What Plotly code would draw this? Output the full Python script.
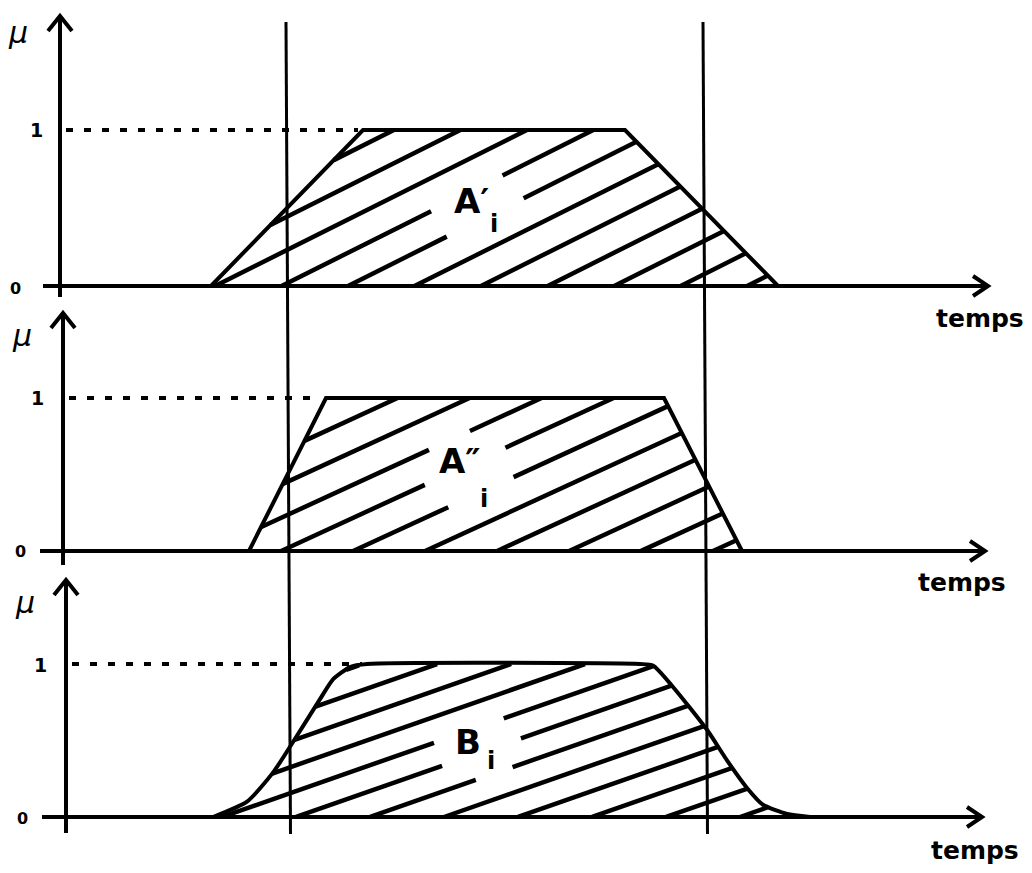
import numpy as np
import plotly.graph_objects as go

temps_A1 = [1.51, 3.03, 5.65, 7.18]
mu_A1 = [0, 1, 1, 0]

temps_A2 = [1.89, 2.66, 6.04, 6.82]
mu_A2 = [0, 1, 1, 0]

temps_B = [1.53, 1.87, 2.13, 2.33, 2.60, 2.73, 2.90, 3.07, 5.80, 5.93,
           6.13, 6.47, 6.67, 6.87, 7.03, 7.27, 7.50]
mu_B = [0, 0.10, 0.29, 0.49, 0.77, 0.90, 0.98, 1.0, 1.0, 0.99,
        0.85, 0.57, 0.37, 0.19, 0.08, 0.02, 0]

bornes = [2.28, 6.45]          # les deux instants marqués par les verticales
noms = ["A′", "A″", "B"]
indice = "i"
graduations = ["1", "0"]
titre_x = "temps"
titre_y = "μ"

W, H = 1032, 873
PX = 100.0      # pixels par unité de temps
T0 = -0.6       # temps au bord gauche de la figure

# mise en page de chaque bande (en pixels)
bandes = [
    dict(t=temps_A1, mu=mu_A1, base=286, sc=156, ax=60, top=16, bot=297, x0=43, x1=988,
         pente=0.50, pas=66.5, c0=215, lab=(478, 208), gap=(47, 38),
         nom=(471, 201), sub=(494, 224),
         temps=(980, 318), mu_lab=(18, 32), un=(36, 130), zero=(15, 288), spline=False),
    dict(t=temps_A2, mu=mu_A2, base=551, sc=153, ax=63, top=313, bot=565, x0=40, x1=985,
         pente=0.46, pas=72, c0=281, lab=(468, 471), gap=(46, 40),
         nom=(460, 461), sub=(484, 499),
         temps=(962, 582), mu_lab=(22, 335), un=(37, 398), zero=(20, 551), spline=False),
    dict(t=temps_B, mu=mu_B, base=817, sc=153, ax=66, top=580, bot=833, x0=42, x1=982,
         pente=0.35, pas=74, c0=222, lab=(478, 746), gap=(44, 34),
         nom=(468, 742), sub=(491, 761),
         temps=(975, 850), mu_lab=(25, 602), un=(40, 665), zero=(22, 818), spline=True),
]


def tx(px):
    return T0 + px / PX


def hachures(b):
    pente = b['pente'] * PX / b['sc']
    pas = b['pas'] / PX
    c0 = tx(b['c0'])
    ts = np.linspace(b['t'][0], b['t'][-1], 2500)
    forme = np.interp(ts, b['t'], b['mu'])
    tc = tx(b['lab'][0])
    mc = (b['base'] - b['lab'][1]) / b['sc']
    rt = b['gap'][0] / PX
    rm = b['gap'][1] / b['sc']
    xs, ys = [], []
    for c in np.arange(c0 - 8 * pas, b['t'][-1], pas):
        m = pente * (ts - c)
        dedans = (m >= 0) & (m <= forme) & (((ts - tc) / rt) ** 2 + ((m - mc) / rm) ** 2 > 1)
        idx = np.flatnonzero(dedans)
        if len(idx) == 0:
            continue
        for seg in np.split(idx, np.flatnonzero(np.diff(idx) > 1) + 1):
            if len(seg) < 4:
                continue
            xs += [ts[seg[0]], ts[seg[-1]], None]
            ys += [m[seg[0]], m[seg[-1]], None]
    return xs, ys


fig = go.Figure()
annots = []
noir = 'black'
police = "DejaVu Sans"


def texte(x, y, yref, s, size, **f):
    return dict(x=x, y=y, xref='x', yref=yref, text=s, showarrow=False,
                font=dict(family=police, size=size, color=noir, **f))


for k, b in enumerate(bandes):
    yref = 'y' if k == 0 else 'y%d' % (k + 1)
    mu_y = lambda py, b=b: (b['base'] - py) / b['sc']
    trait = dict(color=noir, width=4)

    # hachures
    hx, hy = hachures(b)
    fig.add_trace(go.Scatter(x=hx, y=hy, mode='lines', yaxis=yref,
                             line=dict(color=noir, width=4.5)))
    # contour
    fig.add_trace(go.Scatter(x=b['t'], y=b['mu'], mode='lines', yaxis=yref,
                             line=dict(color=noir, width=4,
                                       shape='spline' if b['spline'] else 'linear',
                                       smoothing=0.6)))
    # pointillés au niveau 1
    t_un = b['t'][list(b['mu']).index(1.0)]
    fig.add_trace(go.Scatter(x=[tx(b['ax'] + 6), t_un - 0.05], y=[1, 1], mode='lines',
                             yaxis=yref, line=dict(color=noir, width=4, dash='7px,11px')))

    # axe des temps + flèche
    fig.add_trace(go.Scatter(x=[tx(b['x0']), tx(b['x1']), None,
                                tx(b['x1'] - 15), tx(b['x1']), tx(b['x1'] - 15)],
                             y=[0, 0, None, mu_y(b['base'] - 10), 0, mu_y(b['base'] + 10)],
                             mode='lines', yaxis=yref, line=trait))
    # axe mu + flèche
    fig.add_trace(go.Scatter(x=[tx(b['ax']), tx(b['ax']), None,
                                tx(b['ax'] - 12), tx(b['ax']), tx(b['ax'] + 12)],
                             y=[mu_y(b['bot']), mu_y(b['top']), None,
                                mu_y(b['top'] + 15), mu_y(b['top']), mu_y(b['top'] + 15)],
                             mode='lines', yaxis=yref, line=trait))

    # textes
    annots.append(texte(tx(b['temps'][0]), mu_y(b['temps'][1]), yref, titre_x, 25, weight='bold'))
    annots.append(texte(tx(b['mu_lab'][0]), mu_y(b['mu_lab'][1]), yref, titre_y, 30, style='italic'))
    annots.append(texte(tx(b['un'][0]), mu_y(b['un'][1]), yref, graduations[0], 19, weight='bold'))
    annots.append(texte(tx(b['zero'][0]), mu_y(b['zero'][1]), yref, graduations[1], 16, weight='bold'))
    annots.append(texte(tx(b['nom'][0]), mu_y(b['nom'][1]), yref, noms[k], 34, weight='bold'))
    annots.append(texte(tx(b['sub'][0]), mu_y(b['sub'][1]), yref, indice, 24, weight='bold'))

# les deux verticales qui traversent les trois graphes
formes = []
for t in bornes:
    formes.append(dict(type='line', xref='x', yref='paper', x0=t - 0.02, x1=t + 0.025,
                       y0=1 - 22 / H, y1=1 - 834 / H, line=dict(color=noir, width=3)))

layout_y = {}
for k, b in enumerate(bandes):
    nom = 'yaxis' if k == 0 else 'yaxis%d' % (k + 1)
    d = dict(range=[(b['base'] - H) / b['sc'], b['base'] / b['sc']], visible=False,
             fixedrange=True)
    if k > 0:
        d['overlaying'] = 'y'
    layout_y[nom] = d

fig.update_layout(
    width=W, height=H, margin=dict(l=0, r=0, t=0, b=0),
    paper_bgcolor='white', plot_bgcolor='white', showlegend=False,
    xaxis=dict(range=[T0, T0 + W / PX], visible=False, fixedrange=True),
    annotations=annots, shapes=formes, hovermode=False,
    **layout_y,
)

fig.write_html("out.html", config={'displayModeBar': False},
               post_script="document.body.style.margin='0';")
